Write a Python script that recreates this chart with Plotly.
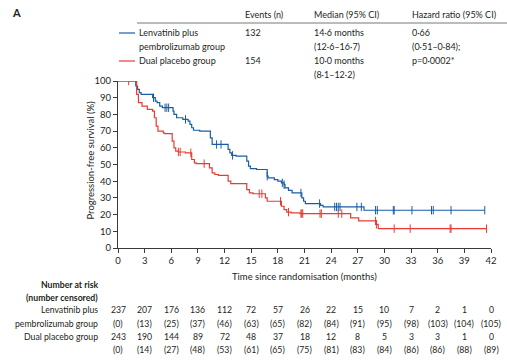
import plotly.graph_objects as go

# ---------------- data ----------------
blue_t = [0, 1.9, 2.0, 2.2, 2.4, 2.6, 3.8, 3.9, 4.2, 4.4, 4.7, 5.0, 6.1, 6.2, 6.3, 6.6, 7.3, 7.9, 8.1, 8.3, 8.5,
          9.2, 10.3, 10.4, 10.6, 12.3, 12.4, 12.6, 12.8, 13.3, 14.3, 14.5, 14.7, 14.9, 15.6, 16.7, 16.8, 16.9,
          17.6, 18.0, 18.4, 18.7, 18.8, 19.2, 19.6, 20.5, 20.7, 20.9, 21.1, 22.7, 22.8, 23.1, 27.6, 27.7, 41.3]
blue_s = [100, 100, 97, 95, 93, 92, 92, 90, 88, 87, 85, 84, 84, 82, 80, 78, 77, 76, 74, 72, 70.5,
          70, 70, 66, 62, 62, 59, 57, 55.5, 55, 55, 52, 49, 47.5, 47, 47, 43, 42,
          41, 40, 39, 38, 36, 34.5, 33, 33, 30, 28, 26.6, 26.6, 25.5, 24.6, 24.6, 22.6, 22.6]
blue_cens = [4.0, 5.3, 5.5, 5.7, 7.6, 11.1, 11.6, 12.9, 16.8, 18.5, 18.7, 20.6, 22.7, 24.4, 24.6, 24.8, 25.0,
             26.9, 27.4, 29.0, 29.2, 31.0, 31.1, 33.1, 35.3, 35.5, 37.5, 41.3]

red_t = [0, 1.95, 2.1, 2.3, 2.7, 3.3, 3.9, 4.1, 4.3, 4.5, 5.1, 5.2, 6.0, 6.1, 6.3, 6.5, 6.8, 7.6, 8.1, 8.3, 8.6,
         8.8, 10.0, 10.3, 10.6, 10.9, 11.3, 12.3, 12.4, 12.7, 14.3, 14.5, 14.8, 15.2, 16.5, 16.6, 16.8, 18.2,
         18.4, 18.7, 19.0, 19.5, 20.5, 26.1, 26.2, 27.0, 27.1, 29.0, 29.1, 29.3, 41.5]
red_s = [100, 100, 92, 87, 85, 83, 82, 78, 73, 70, 69, 68.5, 68.5, 64, 60, 58, 57.5, 57, 57, 53, 51,
         50.5, 50.5, 48, 45, 44, 43.5, 43.5, 40, 38.5, 38.5, 35, 33, 32.5, 32.5, 30, 28, 28,
         25, 23, 21.5, 21, 20.6, 20.6, 18, 18, 16.2, 16.2, 14.2, 11.6, 11.6]
red_cens = [1.2, 6.8, 7.0, 8.2, 9.7, 15.9, 16.2, 18.3, 19.2, 20.6, 20.7, 20.8, 22.75, 22.9, 24.8, 25.2,
            29.0, 29.1, 31.1, 32.9, 37.4, 37.5, 41.5]

risk_times = list(range(0, 43, 3))
lenva_risk = [237, 207, 176, 136, 112, 72, 57, 26, 22, 15, 10, 7, 2, 1, 0]
lenva_cens = [0, 13, 25, 37, 46, 63, 65, 82, 84, 91, 95, 98, 103, 104, 105]
plac_risk = [243, 190, 144, 89, 72, 48, 37, 18, 12, 8, 5, 3, 3, 1, 0]
plac_cens = [0, 14, 27, 48, 53, 61, 65, 75, 81, 83, 84, 86, 86, 88, 89]

BLUE = "#1a5da6"
RED = "#ea3a33"
TXT = "#231f20"
FONT = "Lato"
FS = 9.5      # axis text
FS_HDR = 9    # header block
FS_TAB = 8.7  # number-at-risk table

W, H = 507, 361
# plot area in pixels
L, R, T, B = 118, 491, 81, 248


def step_at(ts, ss, t):
    v = ss[0]
    for ti, si in zip(ts, ss):
        if ti <= t:
            v = si
    return v


def py(ypx):
    return (B - ypx) / (B - T)


def px(xpx):
    return (xpx - L) / (R - L)


fig = go.Figure()
fig.add_trace(go.Scatter(x=blue_t, y=blue_s, mode="lines", line=dict(color=BLUE, width=1.2, shape="hv"),
                         showlegend=False, hoverinfo="skip"))
fig.add_trace(go.Scatter(x=red_t, y=red_s, mode="lines", line=dict(color=RED, width=1.2, shape="hv"),
                         showlegend=False, hoverinfo="skip"))
fig.add_trace(go.Scatter(x=blue_cens, y=[step_at(blue_t, blue_s, t) for t in blue_cens], mode="markers",
                         marker=dict(symbol="line-ns", size=6, line=dict(color=BLUE, width=1)),
                         showlegend=False, hoverinfo="skip"))
fig.add_trace(go.Scatter(x=red_cens, y=[step_at(red_t, red_s, t) for t in red_cens], mode="markers",
                         marker=dict(symbol="line-ns", size=6, line=dict(color=RED, width=1)),
                         showlegend=False, hoverinfo="skip"))

ann = []


def text(x, y, s, xanchor="left", size=FS_HDR, xref="paper", bold=False, yanchor="middle"):
    if bold:
        s = "<b>" + s + "</b>"
    ann.append(dict(x=x, y=y, xref=xref, yref="paper", text=s, showarrow=False, xanchor=xanchor,
                    yanchor=yanchor, font=dict(family=FONT, size=size, color=TXT)))


# header
text(px(10), py(12), "A", size=11, bold=True)
text(px(243), py(14), "Events (n)")
text(px(312), py(14), "Median (95% CI)")
text(px(410), py(14), "Hazard ratio (95% CI)")
text(px(137), py(33), "Lenvatinib plus")
text(px(137), py(47), "pembrolizumab group")
text(px(137), py(61), "Dual placebo group")
text(px(243), py(33), "132")
text(px(243), py(61), "154")
text(px(312), py(33), "14·6 months")
text(px(312), py(47), "(12·6–16·7)")
text(px(312), py(61), "10·0 months")
text(px(312), py(74), "(8·1–12·2)")
text(px(410), py(33), "0·66")
text(px(410), py(47), "(0·51–0·84);")
text(px(410), py(61), "p=0·0002*")

shapes = [
    dict(type="line", xref="paper", yref="paper", x0=px(137), x1=px(507), y0=py(23), y1=py(23),
         line=dict(color="#555", width=0.8)),
    dict(type="line", xref="paper", yref="paper", x0=px(119), x1=px(135), y0=py(33), y1=py(33),
         line=dict(color=BLUE, width=1.2)),
    dict(type="line", xref="paper", yref="paper", x0=px(119), x1=px(135), y0=py(61), y1=py(61),
         line=dict(color=RED, width=1.2)),
]

# y title
ann.append(dict(x=px(82), y=py(160), xref="paper", yref="paper", text="Progression-free survival (%)",
                showarrow=False, textangle=-90, font=dict(family=FONT, size=FS, color=TXT)))
# x title
text(0.5, py(276), "Time since randomisation (months)", xanchor="center", size=FS)

# number at risk table
text(px(100), py(284), "Number at risk", xanchor="right", bold=True, size=FS_TAB)
text(px(100), py(297), "(number censored)", xanchor="right", bold=True, size=FS_TAB)
text(px(100), py(309), "Lenvatinib plus", xanchor="right", size=FS_TAB)
text(px(100), py(323), "pembrolizumab group", xanchor="right", size=FS_TAB)
text(px(100), py(336), "Dual placebo group", xanchor="right", size=FS_TAB)
for t, a, b, c, d in zip(risk_times, lenva_risk, lenva_cens, plac_risk, plac_cens):
    text(t, py(309), str(a), xanchor="center", xref="x", size=FS_TAB)
    text(t, py(323), f"({b})", xanchor="center", xref="x", size=FS_TAB)
    text(t, py(336), str(c), xanchor="center", xref="x", size=FS_TAB)
    text(t, py(349), f"({d})", xanchor="center", xref="x", size=FS_TAB)

axis_common = dict(showgrid=False, zeroline=False, showline=True, linecolor="#3a3a3a", linewidth=1,
                   ticks="outside", ticklen=4, tickcolor="#3a3a3a", tickwidth=1,
                   tickfont=dict(family=FONT, size=FS, color=TXT))
fig.update_layout(
    width=W, height=H,
    margin=dict(l=L, r=W - R, t=T, b=H - B, autoexpand=False),
    paper_bgcolor="white", plot_bgcolor="white",
    xaxis=dict(range=[0, 42], tickvals=risk_times, **axis_common),
    yaxis=dict(range=[0, 100], tickvals=list(range(0, 101, 10)), **axis_common),
    annotations=ann, shapes=shapes, showlegend=False,
)
fig.write_html("out.html", config={"displayModeBar": False},
               post_script="document.body.style.margin='0';document.body.style.overflow='hidden';")
